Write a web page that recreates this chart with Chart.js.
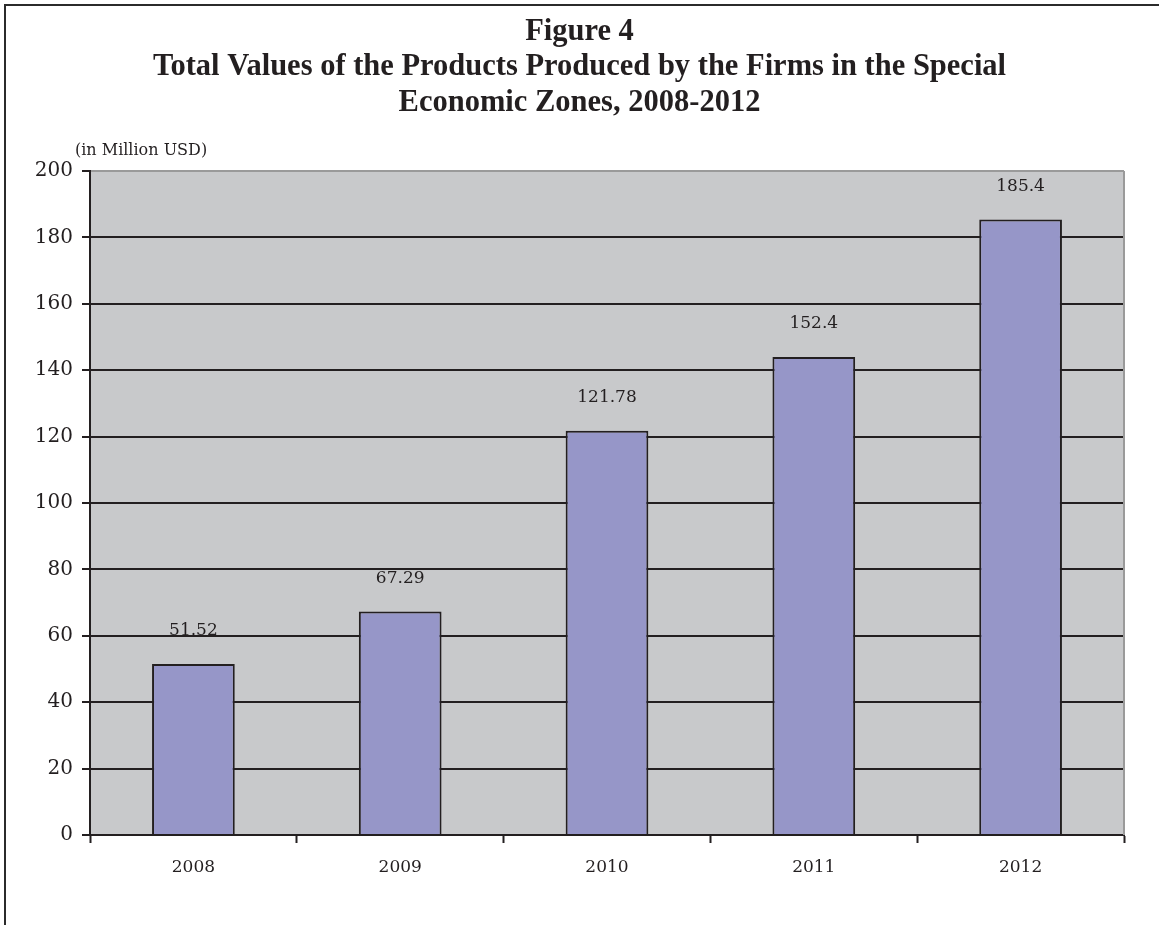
<!DOCTYPE html>
<html>
<head>
<meta charset="utf-8">
<script src="https://cdn.jsdelivr.net/npm/chart.js@4.4.1/dist/chart.umd.min.js"></script>
<style>
  html, body { margin: 0; padding: 0; background: #ffffff; overflow: hidden; }
  #wrap { position: relative; width: 1159px; height: 925px; }
</style>
</head>
<body>
<div id="wrap"><canvas id="c" width="1159" height="925"></canvas></div>
<script>
const titleLines = [
  'Figure 4',
  'Total Values of the Products Produced by the Firms in the Special',
  'Economic Zones, 2008-2012'
];
const unitLabel = '(in Million USD)';
const categories = ['2008', '2009', '2010', '2011', '2012'];
const barValues = [51.52, 67.29, 121.78, 144, 185.4];
const valueLabels = ['51.52', '67.29', '121.78', '152.4', '185.4'];
const yMin = 0;
const yMax = 200;
const yStep = 20;

const INK = '#231f20';

const framePlugin = {
  id: 'frame',
  beforeDraw(chart) {
    const ctx = chart.ctx;
    ctx.save();
    ctx.fillStyle = '#ffffff';
    ctx.fillRect(0, 0, chart.width, chart.height);
    ctx.strokeStyle = '#2b2b2b';
    ctx.lineWidth = 2;
    ctx.beginPath();
    ctx.moveTo(5, chart.height);
    ctx.lineTo(5, 5);
    ctx.lineTo(chart.width, 5);
    ctx.stroke();
    const a = chart.chartArea;
    ctx.fillStyle = '#c8c9cb';
    ctx.fillRect(a.left, a.top, a.right - a.left, a.bottom - a.top);
    ctx.restore();
  },
  afterDatasetsDraw(chart) {
    const ctx = chart.ctx;
    const a = chart.chartArea;
    ctx.save();
    ctx.strokeStyle = '#9a9a9a';
    ctx.lineWidth = 2;
    ctx.beginPath();
    ctx.moveTo(a.right, a.top);
    ctx.lineTo(a.right, a.bottom);
    ctx.stroke();
    const meta = chart.getDatasetMeta(0);
    ctx.fillStyle = INK;
    ctx.font = '17px "DejaVu Serif"';
    ctx.textAlign = 'center';
    ctx.textBaseline = 'middle';
    meta.data.forEach((bar, i) => {
      ctx.fillText(valueLabels[i], bar.x, bar.y - 33);
    });
    ctx.textAlign = 'left';
    ctx.font = '16px "DejaVu Serif"';
    ctx.fillText(unitLabel, a.left - 15, a.top - 20);
    ctx.restore();
  }
};

new Chart(document.getElementById('c'), {
  type: 'bar',
  data: {
    labels: categories,
    datasets: [{
      data: barValues,
      backgroundColor: '#9696c8',
      borderColor: INK,
      borderWidth: 2,
      barPercentage: 0.4,
      categoryPercentage: 1.0
    }]
  },
  options: {
    responsive: false,
    animation: false,
    layout: { padding: { top: 0, left: 35, right: 35, bottom: 0 } },
    plugins: {
      legend: { display: false },
      tooltip: { enabled: false },
      title: {
        display: true,
        text: titleLines,
        color: INK,
        font: { family: '"Liberation Serif"', size: 30.5, weight: 'bold', lineHeight: 35.5 / 30.5 },
        padding: { top: 14, bottom: 171 - 14 - 3 * 35.5 }
      }
    },
    scales: {
      x: {
        afterFit(scale) { scale.height = 925 - 835; },
        grid: {
          offset: true,
          drawOnChartArea: false,
          drawTicks: true,
          tickLength: 8,
          tickColor: INK,
          tickWidth: 2
        },
        border: { color: INK, width: 2 },
        ticks: {
          color: INK,
          padding: 14,
          font: { family: '"DejaVu Serif"', size: 17 }
        }
      },
      y: {
        min: yMin,
        max: yMax,
        afterFit(scale) { scale.width = 55; },
        grid: {
          color: (c) => (c.tick && c.tick.value === yMax) ? '#9a9a9a' : INK,
          lineWidth: 2,
          drawTicks: true,
          tickLength: 8,
          tickColor: INK,
          tickWidth: 2
        },
        border: { color: INK, width: 2 },
        ticks: {
          stepSize: yStep,
          color: INK,
          padding: 9,
          font: { family: '"DejaVu Serif"', size: 20 }
        }
      }
    }
  },
  plugins: [framePlugin]
});
</script>
</body>
</html>
